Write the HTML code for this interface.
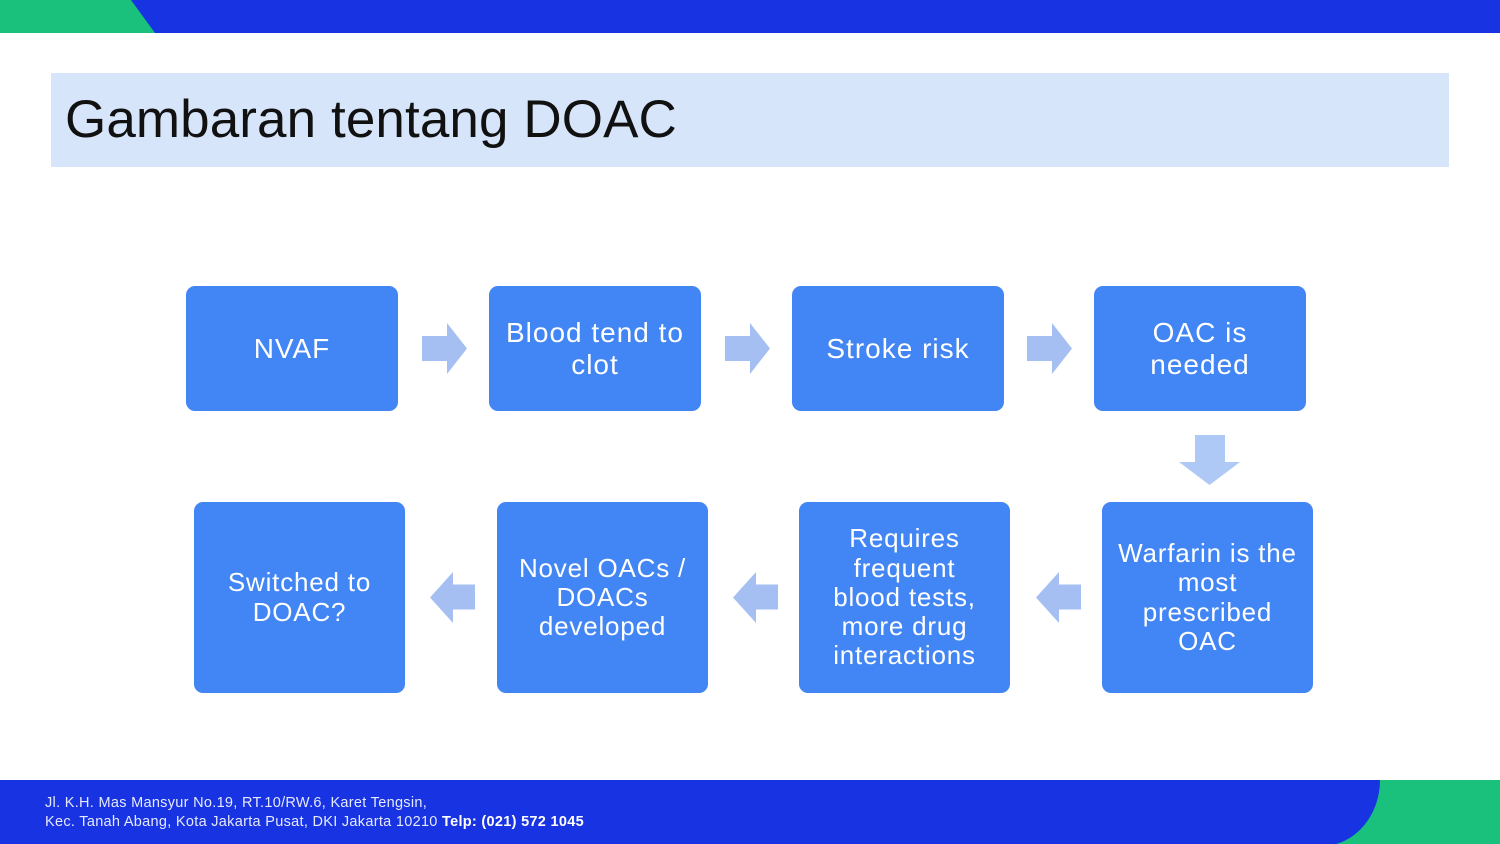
<!DOCTYPE html>
<html><head><meta charset="utf-8">
<style>
html,body{margin:0;padding:0;}
body{width:1500px;height:844px;position:relative;overflow:hidden;background:#fff;font-family:"Liberation Sans",sans-serif;}
.title{position:absolute;left:51px;top:73px;width:1398px;height:94px;background:#d7e5fa;}
.title span{position:absolute;left:14px;top:17px;font-size:53px;color:#111;line-height:60px;white-space:nowrap;letter-spacing:0.1px;}
.box{position:absolute;background:#4285f4;border-radius:9px;color:#fff;display:flex;align-items:center;justify-content:center;text-align:center;white-space:nowrap;}
.r1{top:286px;height:125px;width:212px;font-size:28px;line-height:32px;letter-spacing:1px;}
.r2{top:502px;height:191px;width:211px;font-size:26px;line-height:29.3px;letter-spacing:0.8px;}
.foot{position:absolute;left:45px;top:794px;color:#e6e9ff;font-size:14.5px;line-height:19px;letter-spacing:0.3px;white-space:nowrap;}
.foot b{color:#fff;}
svg{position:absolute;left:0;top:0;}
</style></head><body>
<svg width="1500" height="844" viewBox="0 0 1500 844">
  <rect x="0" y="0" width="1500" height="33" fill="#1733e2"/>
  <polygon points="0,0 131,0 155,33 0,33" fill="#19c17c"/>
  <rect x="0" y="780" width="1500" height="64" fill="#19c17c"/>
  <path d="M0,780 L1380,780 A58,66 0 0 1 1322,846 L0,846 Z" fill="#1733e2"/>
  <g fill="#a6bff2">
    <polygon points="422,336 447,336 447,323 467,348.5 447,374 447,361 422,361"/>
    <polygon points="725,336 750,336 750,323 770,348.5 750,374 750,361 725,361"/>
    <polygon points="1027,336 1052,336 1052,323 1072,348.5 1052,374 1052,361 1027,361"/>
    <polygon points="475,584.5 453,584.5 453,572 430,597.5 453,623 453,609.5 475,609.5"/>
    <polygon points="778,584.5 756,584.5 756,572 733,597.5 756,623 756,609.5 778,609.5"/>
    <polygon points="1081,584.5 1059,584.5 1059,572 1036,597.5 1059,623 1059,609.5 1081,609.5"/>
  </g>
  <polygon fill="#aec9f6" points="1195,435 1225,435 1225,462 1240,462 1209.5,485 1179,462 1195,462"/>
</svg>
<div class="title"><span>Gambaran tentang DOAC</span></div>

<div class="box r1" style="left:186px;">NVAF</div>
<div class="box r1" style="left:489px;">Blood tend to<br>clot</div>
<div class="box r1" style="left:792px;">Stroke risk</div>
<div class="box r1" style="left:1094px;">OAC is<br>needed</div>

<div class="box r2" style="left:194px;">Switched to<br>DOAC?</div>
<div class="box r2" style="left:497px;">Novel OACs /<br>DOACs<br>developed</div>
<div class="box r2" style="left:799px;">Requires<br>frequent<br>blood tests,<br>more drug<br>interactions</div>
<div class="box r2" style="left:1102px;">Warfarin is the<br>most<br>prescribed<br>OAC</div>

<div class="foot">Jl. K.H. Mas Mansyur No.19, RT.10/RW.6, Karet Tengsin,<br>Kec. Tanah Abang, Kota Jakarta Pusat, DKI Jakarta 10210 <b>Telp: (021) 572 1045</b></div>
</body></html>
